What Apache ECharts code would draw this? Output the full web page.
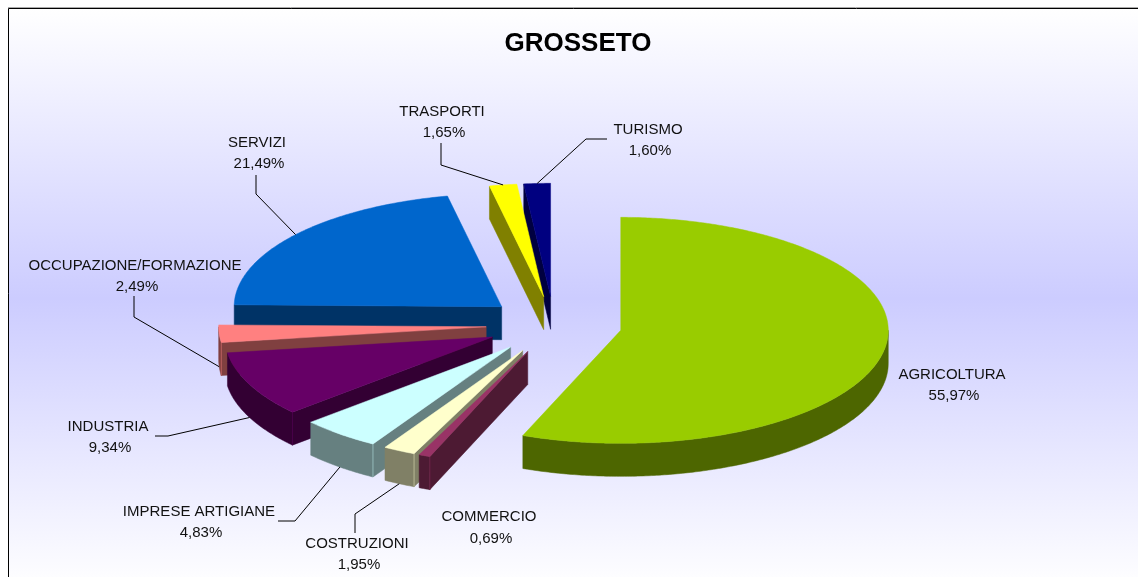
<!DOCTYPE html>
<html>
<head>
<meta charset="utf-8">
<style>html,body{margin:0;padding:0;background:#fff}#c{width:1138px;height:577px}</style>
<script src="https://cdn.jsdelivr.net/npm/echarts@6/dist/echarts.min.js"></script>
</head>
<body>
<div id="c"></div>
<script>
// ---- data (clockwise from 12 o'clock) ----
var categories = ['AGRICOLTURA','COMMERCIO','COSTRUZIONI','IMPRESE ARTIGIANE','INDUSTRIA','OCCUPAZIONE/FORMAZIONE','SERVIZI','TRASPORTI','TURISMO'];
var shares = [55.97,0.69,1.95,4.83,9.34,2.49,21.49,1.65,1.60];
var sliceColors = ['#99CC00','#993366','#FFFFCC','#CCFFFF','#660066','#FF8080','#0066CC','#FFFF00','#000080'];

// ---- layout of the projected pie and its annotations ----
var pie = {cx:554, cy:325, rx:267.5, ry:113, explode:0.254, depth:33};
var labelCentres = [[952,373],[489,515.5],[357,542],[199,510],[108,425],[135,264],[257,141],[442,110],[648,128]];
var leaderElbows = [
  null, null,
  [[355,533],[355,514]],
  [[278,521],[295,521]],
  [[155,436],[168,436]],
  [[134,296],[134,317]],
  [[256,175],[256,194]],
  [[441,143],[441,165]],
  [[607,139],[586,139]]
];
var fontFamily = '"Liberation Sans", Arial, sans-serif';

var total = shares.reduce(function(a,b){return a+b;},0);
var starts = [];
shares.reduce(function(acc,v,i){starts[i]=acc; return acc+v/total*2*Math.PI;},0);
function angles(i){return [starts[i], starts[i]+shares[i]/total*2*Math.PI];}
function outer(c,t){return [c[0]+pie.rx*Math.sin(t), c[1]-pie.ry*Math.cos(t)];}
function apexOf(i){
  var a=angles(i), m=(a[0]+a[1])/2;
  return [pie.cx+pie.explode*pie.rx*Math.sin(m), pie.cy-pie.explode*pie.ry*Math.cos(m)];
}
function down(p){return [p[0],p[1]+pie.depth];}
function shade(hex,f){
  var n=parseInt(hex.slice(1),16);
  var r=(n>>16)&255,g=(n>>8)&255,b=n&255;
  return 'rgb('+Math.round(r*f)+','+Math.round(g*f)+','+Math.round(b*f)+')';
}
function arcPts(c,t0,t1){
  var n=Math.max(2,Math.ceil((t1-t0)/0.01)),out=[];
  for(var k=0;k<=n;k++){out.push(outer(c,t0+(t1-t0)*k/n));}
  return out;
}
function renderSlice(params,api){
  var i=api.value(0), a=angles(i), c=apexOf(i), col=sliceColors[i], wall=shade(col,0.5), kids=[];
  function poly(pts,fill){kids.push({type:'polygon',shape:{points:pts},style:{fill:fill,stroke:fill,lineWidth:0.5}});}
  if(Math.sin(a[0])<-1e-6){
    var p0=outer(c,a[0]);
    poly([c,p0,down(p0),down(c)],wall);
  }
  if(Math.sin(a[1])>1e-6){
    var p1=outer(c,a[1]);
    poly([c,p1,down(p1),down(c)],wall);
  }
  var f0=Math.max(a[0],Math.PI/2), f1=Math.min(a[1],Math.PI*1.5);
  if(f1>f0){
    var top=arcPts(c,f0,f1);
    poly(top.concat(top.slice().reverse().map(down)),wall);
    if(a[0]>Math.PI/2 && a[0]<Math.PI*1.5){
      var q=outer(c,a[0]), q2=down(q);
      kids.push({type:'line',shape:{x1:q[0],y1:q[1],x2:q2[0],y2:q2[1]},style:{stroke:shade(col,0.72),lineWidth:1}});
    }
  }
  poly([c].concat(arcPts(c,a[0],a[1])),col);
  return {type:'group',children:kids};
}
function renderNote(params,api){
  var i=api.value(0), a=angles(i), c=apexOf(i), kids=[], m=(a[0]+a[1])/2;
  var el=leaderElbows[i], lc=labelCentres[i];
  if(el){
    var e=outer(c,m);
    if(Math.cos(m)<0){e=down(e);}
    kids.push({type:'polyline',shape:{points:el.concat([e])},style:{stroke:'#000',lineWidth:1,fill:null}});
  }
  kids.push({type:'text',style:{text:categories[i],x:lc[0],y:lc[1]+1.5,align:'center',verticalAlign:'middle',fill:'#111',font:'15px '+fontFamily}});
  kids.push({type:'text',style:{text:shares[i].toFixed(2).replace('.',',')+'%',x:lc[0]+2,y:lc[1]+23,align:'center',verticalAlign:'middle',fill:'#111',font:'15px '+fontFamily}});
  return {type:'group',children:kids};
}
var order = categories.map(function(_,i){return i;}).sort(function(p,q){return apexOf(p)[1]-apexOf(q)[1];});

var chart = echarts.init(document.getElementById('c'),null,{renderer:'canvas'});
chart.setOption({
  animation:false,
  backgroundColor:'#fff',
  title:{text:'GROSSETO',left:573,top:39,textAlign:'center',textVerticalAlign:'middle',
    textStyle:{fontFamily:fontFamily,fontSize:26,fontWeight:'bold',color:'#000'}},
  graphic:[
    {type:'line',z:-2,silent:true,shape:{x1:8,y1:7.5,x2:1138,y2:7.5},style:{stroke:'#aaa',lineWidth:1}},
    {type:'rect',z:-1,silent:true,shape:{x:8.5,y:8.5,width:1140,height:580},
    style:{stroke:'#000',lineWidth:1,fill:new echarts.graphic.LinearGradient(0,0,0,1,[
      {offset:0,color:'#FFFFFF'},{offset:0.5,color:'#CCCCFF'},{offset:1,color:'#FFFFFF'}])}}],
  series:[
    {type:'custom',coordinateSystem:'none',z:2,silent:true,clip:false,renderItem:renderSlice,data:order.map(function(i){return [i];})},
    {type:'custom',coordinateSystem:'none',z:3,silent:true,clip:false,renderItem:renderNote,data:order.map(function(i){return [i];})}
  ]
});
</script>
</body>
</html>
